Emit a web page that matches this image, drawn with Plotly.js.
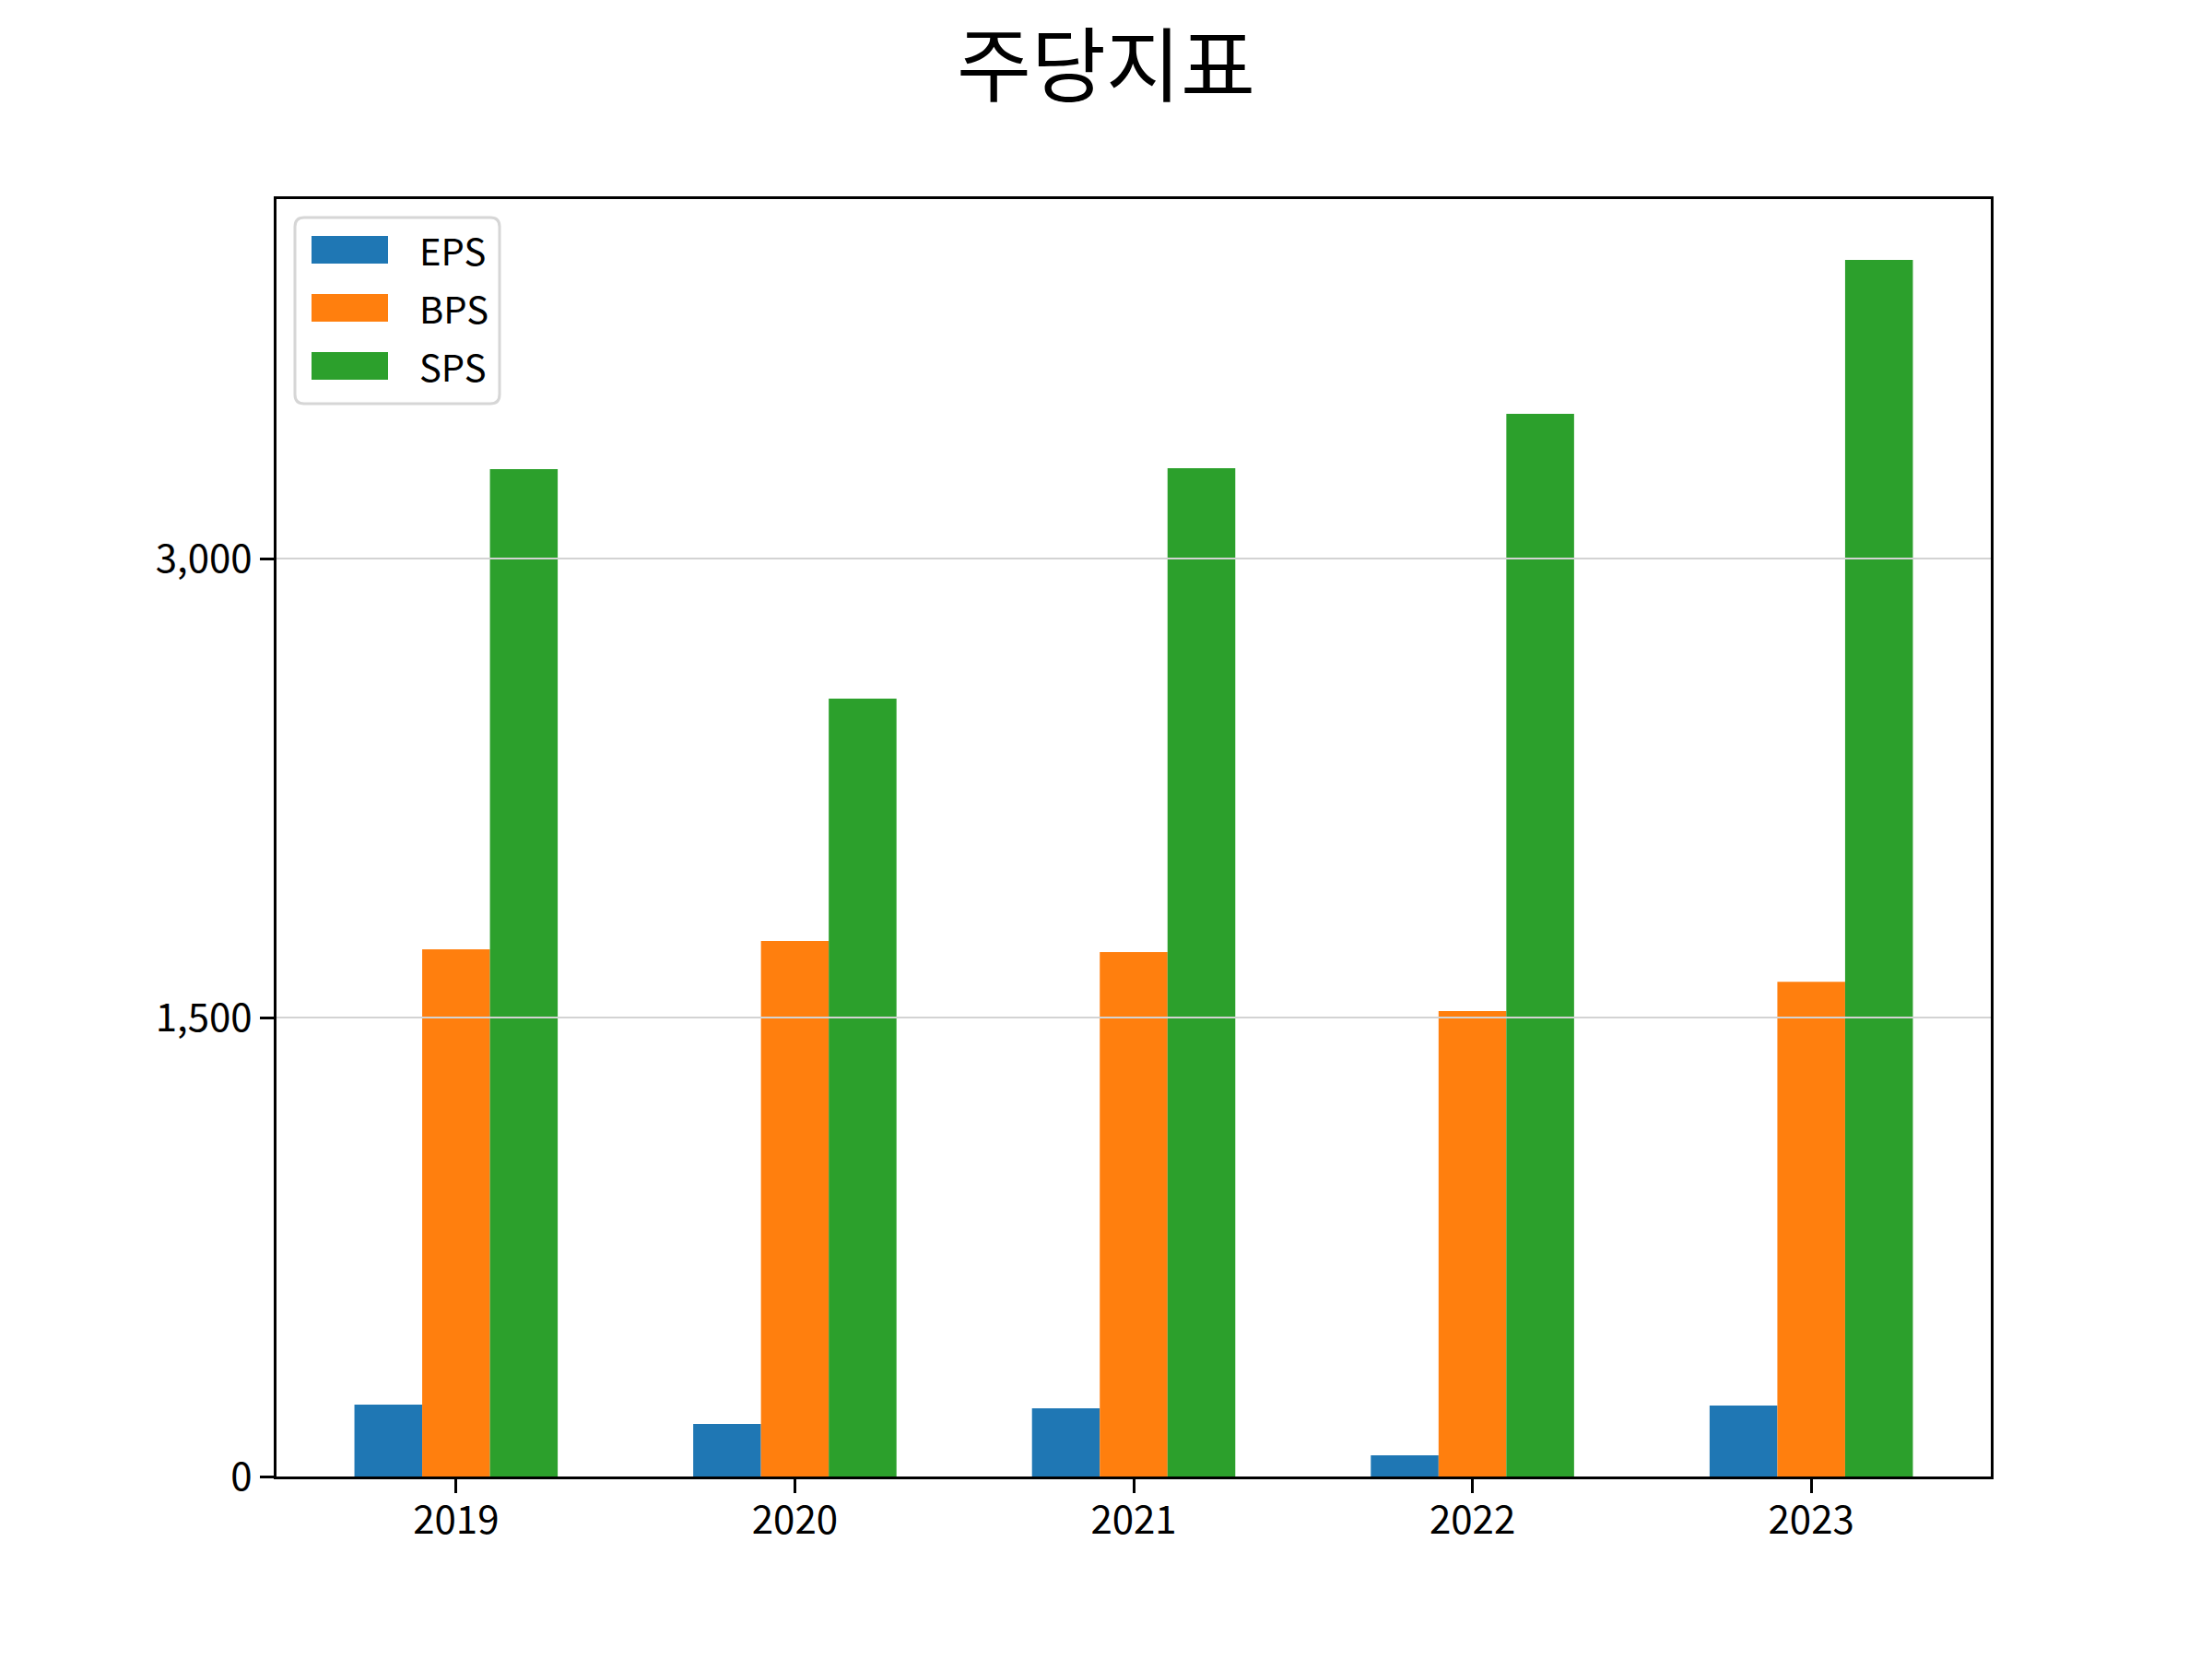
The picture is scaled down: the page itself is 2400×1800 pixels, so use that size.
<!DOCTYPE html>
<html>
<head>
<meta charset="utf-8">
<script src="https://cdn.plot.ly/plotly-3.0.1.min.js"></script>
<style>
  body { margin: 0; background: #fff; }
  #chart { width: 2400px; height: 1800px; }
</style>
</head>
<body>
<div id="chart"></div>
<script>
// data
var years = ['2019', '2020', '2021', '2022', '2023'];
var eps = [235, 172, 223, 69, 232];
var bps = [1723, 1750, 1714, 1521, 1617];
var sps = [3292, 2542, 3295, 3473, 3976];
var seriesNames = ['EPS', 'BPS', 'SPS'];
var seriesColors = ['#1f77b4', '#ff7f0e', '#2ca02c'];
var yTicks = [0, 1500, 3000];

var font = '"Noto Sans CJK KR", "Noto Sans", sans-serif';

// plot area in pixels
var W = 2400, H = 1800;
var mL = 300, mR = 240, mT = 216, mB = 198;
var plotW = W - mL - mR, plotH = H - mT - mB;
function px(x) { return (x - mL) / plotW; }
function py(y) { return (H - mB - y) / plotH; }

var values = [eps, bps, sps];
var data = [];
for (var i = 0; i < values.length; i++) {
    data.push({
        type: 'bar',
        name: seriesNames[i],
        x: years,
        y: values[i],
        marker: { color: seriesColors[i], line: { width: 0 } },
        showlegend: false
    });
}

// matplotlib style auto limits: 5% margin on top
var ymax = Math.max.apply(null, eps.concat(bps, sps)) * 1.05;

var shapes = [];
// grid lines sit above the bars in the reference, so draw them as shapes
for (var k = 0; k < yTicks.length; k++) {
    if (yTicks[k] === 0) continue;
    shapes.push({
        type: 'line', layer: 'above',
        xref: 'paper', x0: 0, x1: 1,
        yref: 'y', y0: yTicks[k], y1: yTicks[k],
        line: { color: '#d3d3d3', width: 2 }
    });
}

// matplotlib-like legend: rounded box, wide swatches
var bx0 = 320, bx1 = 542, by0 = 236, by1 = 438, r = 10;
var box = 'M' + px(bx0 + r) + ',' + py(by0) +
    ' L' + px(bx1 - r) + ',' + py(by0) +
    ' Q' + px(bx1) + ',' + py(by0) + ' ' + px(bx1) + ',' + py(by0 + r) +
    ' L' + px(bx1) + ',' + py(by1 - r) +
    ' Q' + px(bx1) + ',' + py(by1) + ' ' + px(bx1 - r) + ',' + py(by1) +
    ' L' + px(bx0 + r) + ',' + py(by1) +
    ' Q' + px(bx0) + ',' + py(by1) + ' ' + px(bx0) + ',' + py(by1 - r) +
    ' L' + px(bx0) + ',' + py(by0 + r) +
    ' Q' + px(bx0) + ',' + py(by0) + ' ' + px(bx0 + r) + ',' + py(by0) + ' Z';
shapes.push({
    type: 'path', layer: 'above', xref: 'paper', yref: 'paper', path: box,
    fillcolor: 'rgba(255,255,255,0.8)', line: { color: '#d6d6d6', width: 3 }
});

var annotations = [];
for (var j = 0; j < seriesNames.length; j++) {
    var cy = 271 + j * 63;
    shapes.push({
        type: 'rect', layer: 'above', xref: 'paper', yref: 'paper',
        x0: px(338), x1: px(421), y0: py(cy - 15), y1: py(cy + 15),
        fillcolor: seriesColors[j], line: { width: 0 }
    });
    annotations.push({
        xref: 'paper', yref: 'paper', x: px(453), y: py(cy),
        xanchor: 'left', yanchor: 'middle', showarrow: false,
        text: seriesNames[j],
        font: { family: font, size: 40, color: '#000' }
    });
}

var layout = {
    width: W,
    height: H,
    paper_bgcolor: '#fff',
    plot_bgcolor: '#fff',
    font: { family: font, size: 42, color: '#000' },
    margin: { l: mL, r: mR, t: mT, b: mB },
    title: {
        text: '주당지표',
        font: { family: font, size: 88, color: '#000' },
        x: 0.5, xanchor: 'center',
        yref: 'container', y: 1 - 72 / H, yanchor: 'middle'
    },
    barmode: 'group',
    bargap: 0.4,
    bargroupgap: 0,
    showlegend: false,
    xaxis: {
        type: 'category',
        range: [-0.53, years.length - 1 + 0.53],
        showgrid: false,
        zeroline: false,
        showline: true, linecolor: '#000', linewidth: 3, mirror: true,
        ticks: 'outside', ticklen: 15, tickwidth: 3, tickcolor: '#000',
        ticklabelstandoff: -6,
        tickfont: { family: font, size: 42, color: '#000' },
        layer: 'above traces'
    },
    yaxis: {
        range: [0, ymax],
        tickvals: yTicks,
        ticktext: yTicks.map(function (v) { return v.toLocaleString('en-US'); }),
        showgrid: false,
        zeroline: false,
        showline: true, linecolor: '#000', linewidth: 3, mirror: true,
        ticks: 'outside', ticklen: 15, tickwidth: 3, tickcolor: '#000',
        tickfont: { family: font, size: 42, color: '#000' },
        layer: 'above traces'
    },
    shapes: shapes,
    annotations: annotations
};

Plotly.newPlot('chart', data, layout, { staticPlot: true });
</script>
</body>
</html>
